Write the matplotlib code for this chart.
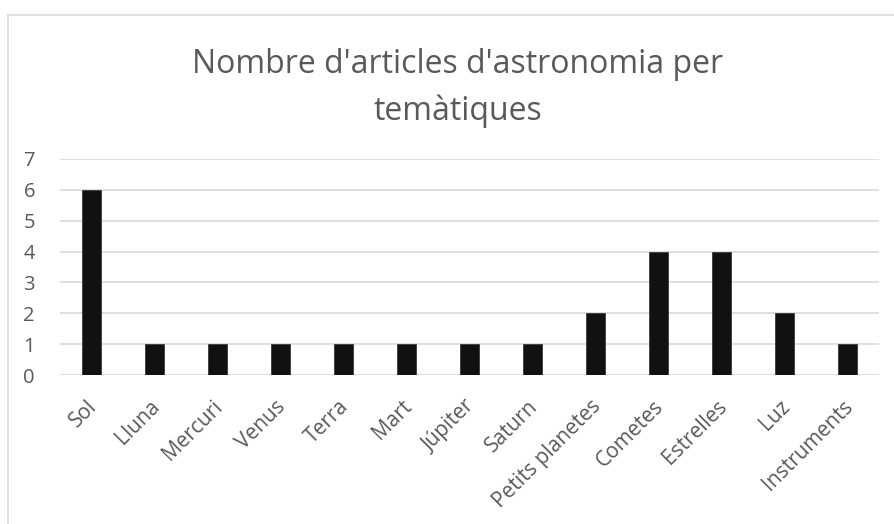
import matplotlib.pyplot as plt
import matplotlib.transforms as mtransforms
from matplotlib.lines import Line2D

categories = ["Sol", "Lluna", "Mercuri", "Venus", "Terra", "Mart", "Júpiter",
              "Saturn", "Petits planetes", "Cometes", "Estrelles", "Luz", "Instruments"]
counts = [6, 1, 1, 1, 1, 1, 1, 1, 2, 4, 4, 2, 1]
yticks = [0, 1, 2, 3, 4, 5, 6, 7]
title = "Nombre d'articles d'astronomia per\ntemàtiques"

plt.rcParams["font.family"] = ["Open Sans", "DejaVu Sans"]
text_color = "#595959"
grid_color = "#d9d9d9"

fig = plt.figure(figsize=(8.94, 5.24), dpi=100)
ax = fig.add_axes([0.067, 0.284, 0.916, 0.413])

x = range(len(categories))
ax.bar(x, counts, width=0.31, color="#111111", edgecolor="#3a3a3a", linewidth=0.6, zorder=3)

ax.set_xlim(-0.5, len(categories) - 0.5)
ax.set_ylim(0, 7)
ax.set_yticks(yticks)
ax.set_yticklabels([str(v) for v in yticks], fontsize=14.5, color=text_color)
ax.set_xticks(list(x))
ax.set_xticklabels(categories, rotation=45, ha="right", rotation_mode="anchor",
                   fontsize=15, color=text_color)
ax.tick_params(axis="both", length=0)
ax.tick_params(axis="y", pad=18)
ax.tick_params(axis="x", pad=13)
ax.grid(axis="y", color=grid_color, linewidth=1.2, zorder=0)
for s in ax.spines.values():
    s.set_visible(False)

# nudge category labels a little left/down to sit like Excel's
shift = mtransforms.ScaledTranslation(-5 / 100, -3 / 100, fig.dpi_scale_trans)
for lbl in ax.get_xticklabels():
    lbl.set_transform(lbl.get_transform() + shift)

fig.text(0.512, 0.832, title, ha="center", va="center", fontsize=23,
         color=text_color, linespacing=1.5)

# chart frame (only top and left edges are inside the crop)
fig.add_artist(Line2D([8 / 894, 1.0], [1 - 15 / 524, 1 - 15 / 524],
                      transform=fig.transFigure, color=grid_color, linewidth=1.2))
fig.add_artist(Line2D([8 / 894, 8 / 894], [0.0, 1 - 15 / 524],
                      transform=fig.transFigure, color=grid_color, linewidth=1.2))

fig.savefig("out.png", dpi=100)
